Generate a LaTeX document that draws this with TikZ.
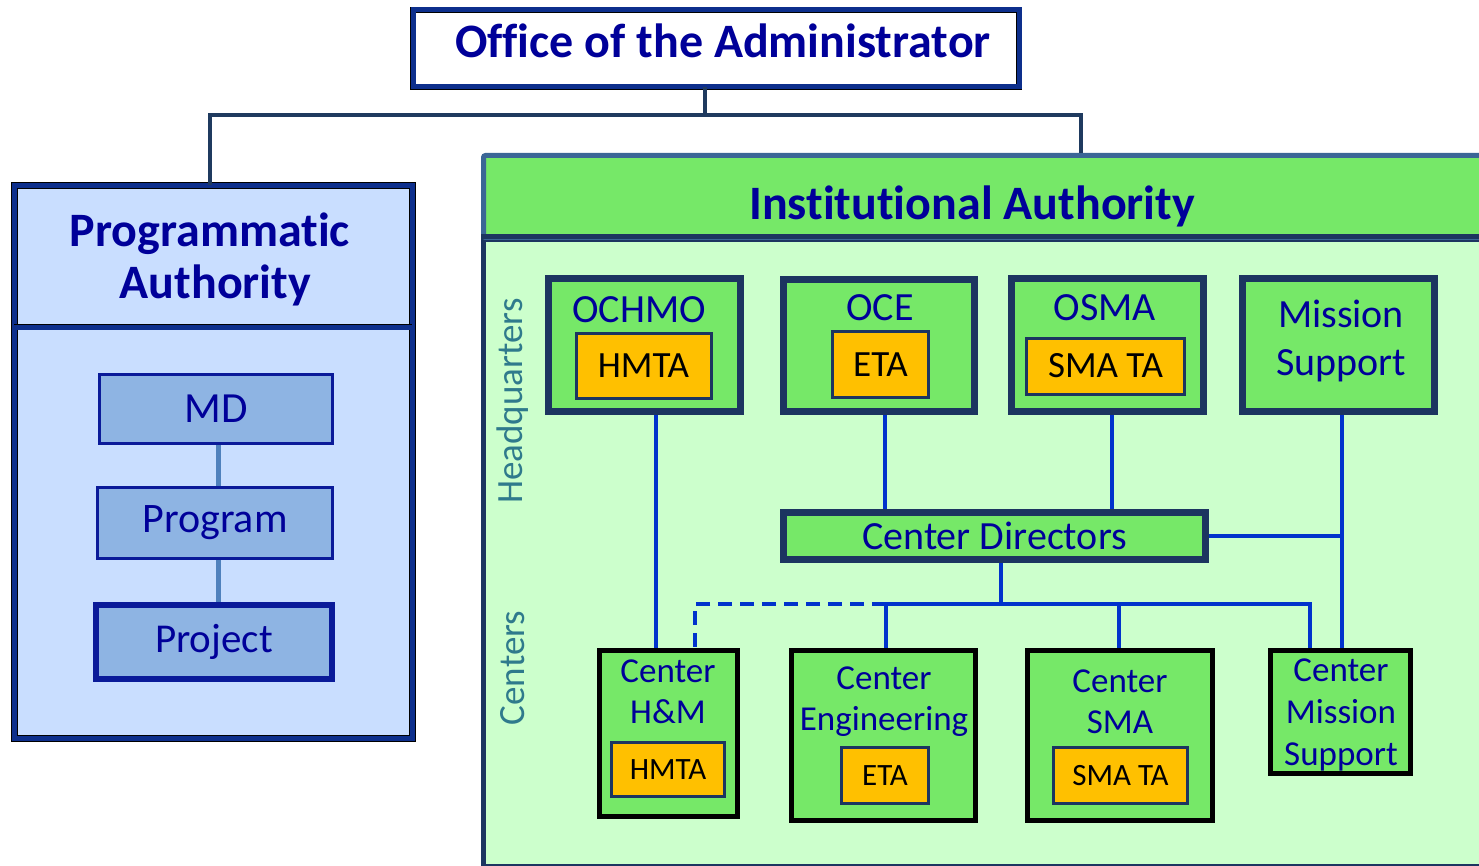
\documentclass[tikz,border=0pt]{standalone}
\usepackage{fontspec}
\setmainfont{Carlito}[Ligatures=NoCommon]
\definecolor{navytxt}{HTML}{000099}
\definecolor{dnavy}{HTML}{1C3560}
\definecolor{oblue}{HTML}{0D2F8C}
\definecolor{cblue}{HTML}{0033CC}
\definecolor{grn}{HTML}{76E868}
\definecolor{lgrn}{HTML}{CCFFCC}
\definecolor{lblue}{HTML}{C9DEFF}
\definecolor{mblue}{HTML}{8EB4E3}
\definecolor{orng}{HTML}{FFC000}
\definecolor{teal}{HTML}{2F7A8C}
\definecolor{steel}{HTML}{3B6696}
\definecolor{topline}{HTML}{1F3A5F}
\definecolor{pline}{HTML}{4F81BD}
\definecolor{mdline}{HTML}{0A1A99}
\newcommand{\fs}[2]{\fontsize{#1}{#2}\selectfont}
\tikzset{
  dblbox/.style={draw=black, line width=0.8pt, double=oblue, double distance=5pt, inner sep=0pt},
  hqbox/.style={draw=dnavy, line width=7pt, fill=grn, inner sep=0pt},
  cenbox/.style={draw=black, line width=5pt, fill=grn, inner sep=0pt},
  tabox/.style={draw=dnavy, line width=3pt, fill=orng, inner sep=0pt, text=black},
  pbox/.style={draw=mdline, line width=3pt, fill=mblue, inner sep=0pt, text=navytxt},
  ntext/.style={text=navytxt, inner sep=0pt},
  conn/.style={draw=cblue, line width=4.5pt},
  tconn/.style={draw=topline, line width=4.5pt},
}
\begin{document}
\begin{tikzpicture}[x=1pt,y=-1pt]
\useasboundingbox (0,0) rectangle (1479,866);
\fill[white] (0,0) rectangle (1479,866);
% Office of the Administrator
\node[dblbox, fill=white, minimum width=606pt, minimum height=77pt] (office) at (716,48.5) {};
\node[ntext, font=\fs{48}{48}\bfseries] (officet) at (723,41) {Office of the Administrator};
% Programmatic Authority
\node[dblbox, fill=lblue, minimum width=398pt, minimum height=553pt, anchor=north west] (pa) at (14,185) {};
\draw[dblbox] (14,327) -- (412,327);
\node[ntext, font=\fs{48}{52}\bfseries, align=center] (patitle) at (210,259) {Programmatic\\\ Authority};
\node[pbox, minimum width=233pt, minimum height=69pt] (md) at (216,409) {\fs{43}{43}MD};
\node[pbox, minimum width=235pt, minimum height=71pt] (program) at (215,523) {\fs{42}{42}Program};
\node[pbox, line width=6pt, minimum width=236pt, minimum height=74pt] (project) at (214,642) {\fs{41}{41}Project};
\draw[draw=pline, line width=5pt] (md.south) ++(2,0) coordinate (mdb) -- (mdb |- program.north);
\draw[draw=pline, line width=5pt] (program.south) ++(3,0) coordinate (prb) -- (prb |- project.north);
% Institutional Authority
\node[draw=dnavy, line width=5pt, fill=lgrn, minimum width=1100pt, minimum height=627pt, anchor=north west, inner sep=0pt] (iabody) at (481,237) {};
\node[draw=steel, line width=5pt, fill=grn, rounded corners=2pt, minimum width=1100pt, minimum height=82pt, anchor=north west, inner sep=0pt] (iahead) at (481,153) {};
\draw[dnavy, line width=5pt] (481,237) -- (1479,237);
\node[ntext, font=\fs{48}{48}\bfseries] (iatitle) at (972,206) {Institutional Authority};
% connectors from office
\coordinate (ofb) at (705,115);
\coordinate (paL) at (210,115);
\coordinate (iaR) at (1081,115);
\draw[tconn] (office.south -| ofb) -- (ofb);
\draw[tconn, line join=miter] (pa.north -| paL) -- (paL) -- (iaR) -- (iaR |- iahead.north);
% side labels
\node[text=teal, rotate=90, font=\fs{37}{37}, inner sep=0pt] (hq) at (513,401) {Headquarters};
\node[text=teal, rotate=90, font=\fs{37}{37}, inner sep=0pt] (cen) at (513,668) {Centers};
% HQ boxes
\node[hqbox, minimum width=192pt, minimum height=133pt] (ochmo) at (644.5,345) {};
\node[ntext, font=\fs{40}{40}] (ochmot) at (639,310) {OCHMO};
\node[tabox, minimum width=135pt, minimum height=65pt, font=\fs{37}{37}] (hmta1) at (643.5,366) {HMTA};
\node[hqbox, minimum width=191pt, minimum height=132pt] (oce) at (879,345.5) {};
\node[ntext, font=\fs{40}{40}] (ocet) at (880,308) {OCE};
\node[tabox, minimum width=96pt, minimum height=66pt, font=\fs{37}{37}] (eta1) at (880.5,364.5) {ETA};
\node[hqbox, minimum width=192pt, minimum height=133pt] (osma) at (1107.5,345) {};
\node[ntext, font=\fs{40}{40}] (osmat) at (1105,308) {OSMA};
\node[tabox, minimum width=158pt, minimum height=56pt, font=\fs{37}{37}] (smata1) at (1105.5,366) {SMA TA};
\node[hqbox, minimum width=192pt, minimum height=133pt] (ms) at (1338.5,345) {};
\node[ntext, font=\fs{40}{48}, align=center] (mst) at (1341,341) {Mission\\Support};
% Center Directors
\node[hqbox, minimum width=422pt, minimum height=47pt, font=\fs{40}{40}, text=navytxt] (cd) at (994.5,536) {Center Directors};
% Center boxes
\node[cenbox, minimum width=138pt, minimum height=166pt] (chm) at (668.5,733) {};
\node[ntext, font=\fs{35}{41}, align=center] (chmt) at (668,692) {Center\\H\&M};
\node[tabox, minimum width=113pt, minimum height=54pt, font=\fs{31}{31}] (hmta2) at (668,769.5) {HMTA};
\node[cenbox, minimum width=184pt, minimum height=170pt] (ceng) at (883.5,735) {};
\node[ntext, font=\fs{35}{41}, align=center] (cengt) at (884,702) {Center\\Engineering};
\node[tabox, minimum width=87pt, minimum height=56pt, font=\fs{31}{31}] (eta2) at (885,775.5) {ETA};
\node[cenbox, minimum width=185pt, minimum height=170pt] (csma) at (1120,735) {};
\node[ntext, font=\fs{35}{41}, align=center] (csmat) at (1120,702) {Center\\SMA};
\node[tabox, minimum width=134pt, minimum height=56pt, font=\fs{31}{31}] (smata2) at (1120.5,775.5) {SMA TA};
\node[cenbox, minimum width=140pt, minimum height=123pt] (cms) at (1340.5,711.5) {};
\node[ntext, font=\fs{35}{42}, align=center] (cmst) at (1341,715) {Center\\Mission\\Support};
% Blue connectors
\coordinate (x1) at (656,0);
\draw[conn] (ochmo.south -| x1) -- (chm.north -| x1);
\coordinate (x2) at (885,0);
\draw[conn] (oce.south -| x2) -- (cd.north -| x2);
\coordinate (x3) at (1112,0);
\draw[conn] (osma.south -| x3) -- (cd.north -| x3);
\coordinate (x4) at (1342,0);
\draw[conn] (ms.south -| x4) -- (cms.north -| x4);
\draw[conn] (cd.east) -- (cd.east -| x4);
\coordinate (bus) at (1001,604);
\draw[conn] (cd.south -| bus) -- (bus);
\coordinate (busL) at (886,604);
\coordinate (busR) at (1310,604);
\draw[conn, line join=miter] (busL |- ceng.north) -- (busL) -- (busR) -- (busR |- cms.north);
\coordinate (bus3) at (1119,604);
\draw[conn] (bus3) -- (bus3 |- csma.north);
\coordinate (dl) at (695,604);
\draw[conn, dash pattern=on 14pt off 8pt, line join=miter] (busL) -- (dl) -- (dl |- chm.north);
\end{tikzpicture}
\end{document}
